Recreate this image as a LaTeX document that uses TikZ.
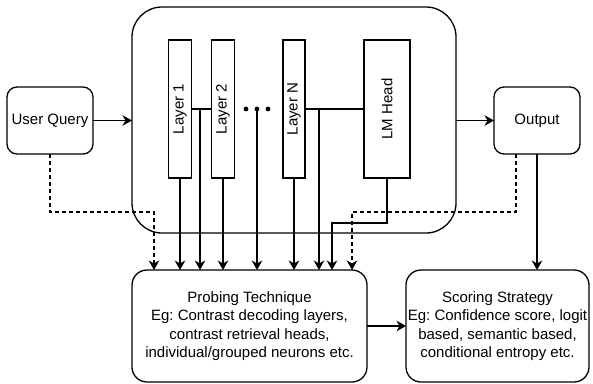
\documentclass[tikz,border=0pt]{standalone}
\usepackage{fontspec}
\setmainfont{Liberation Sans}
\usetikzlibrary{arrows.meta}
\begin{document}
\frenchspacing
\begin{tikzpicture}[x=1pt,y=-1pt,
  line width=1.3pt,
  every node/.style={font=\fontsize{15}{18.3}\selectfont, inner sep=0pt, outer sep=0pt},
  box/.style={draw, rounded corners=#1, align=center},
  box/.default=10pt,
  layerbox/.style={draw, minimum height=138pt},
  arr/.style={-{Stealth[length=9.5pt,width=10.5pt,inset=3pt]}},
  dash line/.style={dash pattern=on 4pt off 3pt},
  dotmark/.style={circle, fill=black, minimum size=4.8pt}
]
\useasboundingbox (0,0) rectangle (593,383);

% model block
\node[box=30pt, minimum width=324pt, minimum height=226pt] (big) at (294,120) {};

% layers
\node[layerbox, minimum width=23pt] (L1) at (180,109) {\rotatebox{90}{Layer 1}};
\node[layerbox, minimum width=23pt] (L2) at (223,109) {\rotatebox{90}{Layer 2}};
\node[layerbox, minimum width=22pt] (LN) at (294,109) {\rotatebox{90}{Layer N}};
\node[layerbox, minimum width=46pt] (LM) at (387,109) {\rotatebox{90}{LM Head}};
\node[dotmark] (d1) at (246,109) {};
\node[dotmark] (d2) at (257,109) {};
\node[dotmark] (d3) at (268,109) {};

% outer boxes
\node[box, minimum width=86pt, minimum height=67pt] (uq) at (50,120.5) {User Query};
\node[box, minimum width=86pt, minimum height=67pt] (out) at (537,120.5) {Output};
\node[box=15pt, minimum width=235pt, minimum height=112pt] (probe) at (249.5,326)
  {Probing Technique\\Eg: Contrast decoding layers,\\contrast retrieval heads,\\individual/grouped neurons etc.};
\node[box=15pt, minimum width=183pt, minimum height=112pt] (score) at (497.5,326)
  {Scoring Strategy\\Eg: Confidence score, logit\\based, semantic based,\\conditional entropy etc.};

% junction points and bends
\coordinate (j1) at (200,109);
\coordinate (j2) at (319,109);
\coordinate (lmbend) at (387,223);
\coordinate (lmdrop) at (332,223);
\coordinate (uqbend) at (50,212);
\coordinate (uqdrop) at (154,212);
\coordinate (outbend) at (516,212);
\coordinate (outdrop) at (352,212);

% main flow
\draw[arr] (uq.east) -- (uq.east -| big.west);
\draw[arr] (big.east |- out.west) -- (out.west);
\draw (L1.east |- j1) -- (L2.west |- j1);
\draw (LN.east |- j2) -- (LM.west |- j2);

% taps into probing
\draw[arr] (L1.south) -- (L1.south |- probe.north);
\draw[arr] (j1) -- (j1 |- probe.north);
\draw[arr] (L2.south) -- (L2.south |- probe.north);
\draw[arr] (d2.center) -- (d2.center |- probe.north);
\draw[arr] (LN.south) -- (LN.south |- probe.north);
\draw[arr] (j2) -- (j2 |- probe.north);
\draw[arr] (LM.south) -- (lmbend) -- (lmdrop) -- (lmdrop |- probe.north);
\draw[arr, dash line] (uq.south -| uqbend) -- (uqbend) -- (uqdrop) -- (uqdrop |- probe.north);
\draw[arr, dash line] (out.south -| outbend) -- (outbend) -- (outdrop) -- (outdrop |- probe.north);

% scoring
\draw[arr] (out.south) -- (out.south |- score.north);
\draw[arr] (probe.east) -- (score.west);
\end{tikzpicture}
\end{document}
